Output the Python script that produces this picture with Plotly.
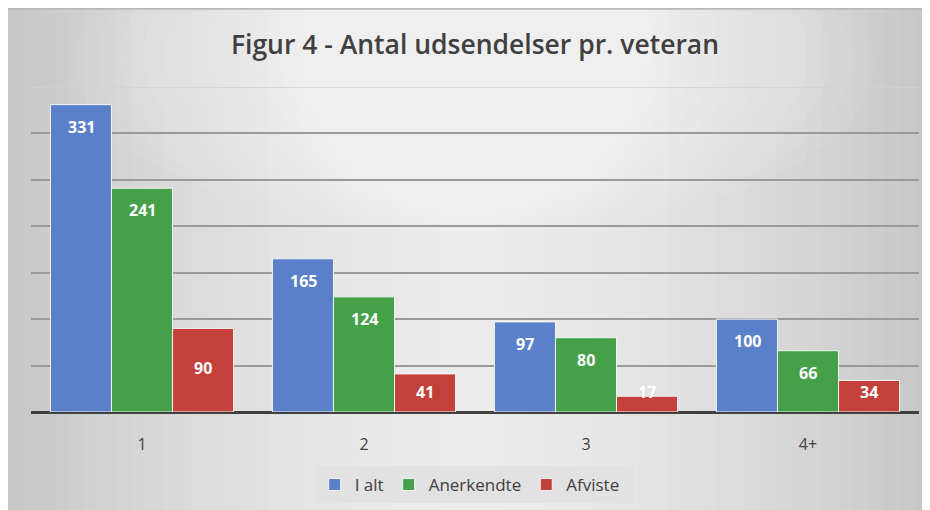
import plotly.graph_objects as go

categories = ["1", "2", "3", "4+"]
i_alt = [331, 165, 97, 100]
anerkendte = [241, 124, 80, 66]
afviste = [90, 41, 17, 34]
series_names = ["I alt", "Anerkendte", "Afviste"]
colors = ["#5a80c9", "#44a049", "#c4403a"]
y_max = 350

W, H = 922, 502
ML, MR, MT, MB = 23, 11, 79, 98
PW, PH = W - ML - MR, H - MT - MB

fig = go.Figure()
for name, vals, col in zip(series_names, [i_alt, anerkendte, afviste], colors):
    fig.add_trace(go.Bar(
        x=categories, y=vals, name=name,
        marker=dict(color=col, line=dict(color="#f4f4f4", width=1)),
    ))

# data labels (inside end, kept above the baseline for short bars)
bar_px = 61
label_override = {(2, 0): -40}
for k, vals in enumerate([i_alt, anerkendte, afviste]):
    for j, v in enumerate(vals):
        h = v * PH / y_max
        ys = max(-22, 20 - h)
        ys = label_override.get((k, j), ys)
        fig.add_annotation(x=j, y=v, text=f"<b>{v}</b>", showarrow=False,
                           xref="x", yref="y",
                           xshift=(k - 1) * bar_px, yshift=ys,
                           font=dict(family="Open Sans", size=16, color="white"))

# horizontal gradient background (light centre, darker edges)
shapes = []
x_left = -ML / PW
x_right = 1 + MR / PW
y_bot = -MB / PH
y_top = 1 + MT / PH
n = 60
step = (x_right - x_left) / n
for i in range(n):
    xc = (i + 0.5) / n
    d = abs(xc - 0.5) * 2
    g = int(round(236 - 38 * d ** 1.6))
    shapes.append(dict(type="rect", xref="paper", yref="paper", layer="below",
                       x0=x_left + i * step, x1=x_left + (i + 1) * step + 0.001,
                       y0=y_bot, y1=y_top,
                       fillcolor=f"rgb({g},{g},{g})", line=dict(width=0)))
# top-centre lightening
m = 12
for i in range(m):
    f = i / m
    shapes.append(dict(type="circle", xref="paper", yref="paper", layer="below",
                       x0=0.05 + 0.3 * f, x1=0.95 - 0.3 * f,
                       y0=0.55 + 0.25 * f, y1=1.6 - 0.1 * f,
                       fillcolor="white", opacity=0.06, line=dict(width=0)))
# thin darker top border
shapes.append(dict(type="line", xref="paper", yref="paper", layer="below",
                   x0=x_left, x1=x_right, y0=y_top - 0.002, y1=y_top - 0.002,
                   line=dict(color="#b8b8b8", width=2)))
# faint top gridline
shapes.append(dict(type="line", xref="paper", yref="y", layer="below",
                   x0=0, x1=1, y0=y_max, y1=y_max,
                   line=dict(color="#d2d2d2", width=1.5)))
# legend box
shapes.append(dict(type="rect", xref="paper", yref="paper", layer="below",
                   x0=0.322, x1=0.678, y0=-0.28, y1=-0.166,
                   fillcolor="#e2e2e2", line=dict(width=0)))

fig.update_layout(
    width=W, height=H,
    margin=dict(l=ML, r=MR, t=MT, b=MB, autoexpand=False),
    paper_bgcolor="#d6d6d6", plot_bgcolor="rgba(0,0,0,0)",
    barmode="group", bargap=0.175, bargroupgap=0,
    title=dict(text="Figur 4 - Antal udsendelser pr. veteran", x=0.5, xanchor="center",
               xref="paper", y=1 - 37 / H, yanchor="middle",
               font=dict(family="Open Sans", size=26.5, color="#404040", weight=600)),
    showlegend=True,
    legend=dict(orientation="h", x=0.494, xanchor="center", y=-0.2246, yanchor="middle",
                font=dict(family="Open Sans", size=17, color="#404040"),
                bgcolor="rgba(0,0,0,0)", itemwidth=30, traceorder="normal"),
    shapes=shapes,
    xaxis=dict(tickfont=dict(family="Open Sans", size=16, color="#404040"),
               showgrid=False, ticks="outside", ticklen=18, tickcolor="rgba(0,0,0,0)",
               showline=False),
    yaxis=dict(range=[0, y_max], dtick=50, showticklabels=False, gridcolor="#9a9a9a",
               gridwidth=1.5, zeroline=True, zerolinecolor="#404040", zerolinewidth=3,
               showline=False, ticks=""),
    font=dict(family="Open Sans"),
)
fig.write_html("out.html")
